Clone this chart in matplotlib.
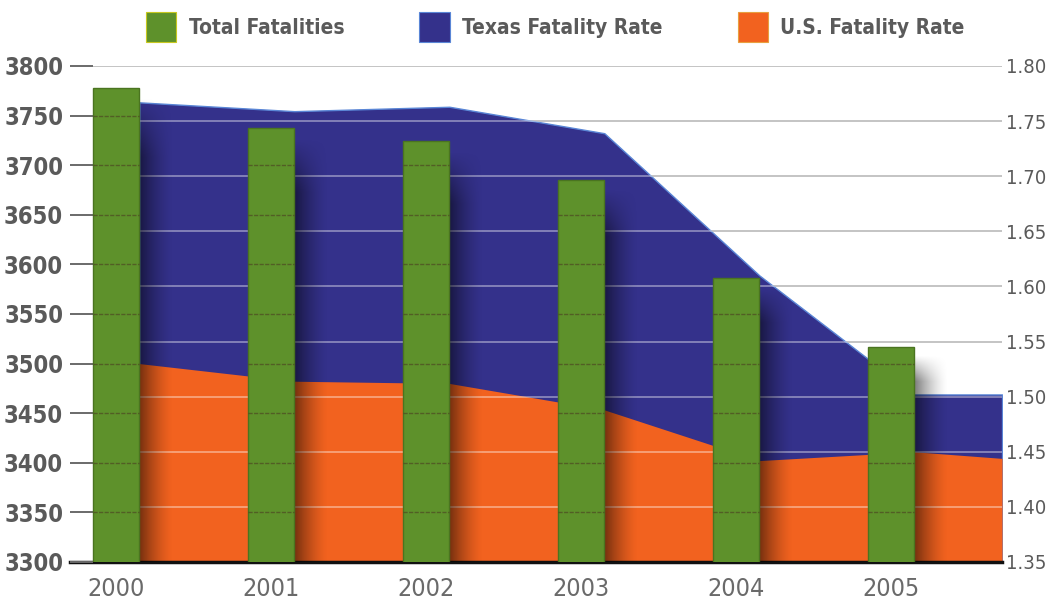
import numpy as np
import matplotlib
matplotlib.use("Agg")
import matplotlib.pyplot as plt
from matplotlib.patches import Patch

years = ["2000", "2001", "2002", "2003", "2004", "2005"]
total_fatalities = [3778, 3737, 3724, 3685, 3586, 3517]
texas_rate = [1.767, 1.759, 1.763, 1.739, 1.610, 1.502]
us_rate = [1.530, 1.514, 1.512, 1.488, 1.442, 1.450]
# the shaded areas run on past the last bar to the right edge
texas_rate_end = 1.502
us_rate_end = 1.444

left_ticks = [3300, 3350, 3400, 3450, 3500, 3550, 3600, 3650, 3700, 3750, 3800]
right_ticks = [1.35, 1.40, 1.45, 1.50, 1.55, 1.60, 1.65, 1.70, 1.75, 1.80]

green = "#5e912b"
blue = "#34318b"
orange = "#f2621f"
grey_txt = "#5a5a5a"

plt.rcParams["font.family"] = ["DejaVu Sans"]
plt.rcParams["font.stretch"] = "condensed"

fig = plt.figure(figsize=(10.46, 6.03), dpi=100)
ax = fig.add_axes([0.067, 0.068, 0.891, 0.8226])   # rates (right scale), drawn first
ax2 = ax.twinx()                                     # fatalities (left scale), on top

x = np.arange(len(years))
bw = 0.3
xmin, xmax = -0.297, 5.716

# areas on the rate axis, vertices at the right edge of each bar
xa = np.append(x + bw / 2, xmax)
tx = np.append(texas_rate, texas_rate_end)
us = np.append(us_rate, us_rate_end)
ax.fill_between(xa, 1.35, tx, color=blue, edgecolor="#5a86d6", linewidth=1, zorder=1)
ax.fill_between(xa, 1.35, us, color=orange, linewidth=0, zorder=1.2)

ax.set_ylim(1.35, 1.80)
ax.set_yticks(right_ticks)
ax.set_yticklabels([f"{v:.2f}" for v in right_ticks])
ax.yaxis.tick_right()
# rate gridlines: grey on white, pale where they cross the areas
ax.hlines(right_ticks[1:], x[0] - bw / 2, xmax, colors="#9a9a9a", linewidth=1.3, zorder=0.5)
ax.hlines(right_ticks[1:], x[0] - bw / 2, xmax, colors="white", alpha=0.45, linewidth=1.2, zorder=1.5)
ax.tick_params(axis="y", length=0, pad=3, labelsize=14.5, labelcolor=grey_txt)
ax.set_xticks(x)
ax.set_xticklabels(years)
ax.tick_params(axis="x", length=0, pad=11, labelsize=18, labelcolor="#6a6a6a")
for s in ["top", "left", "right"]:
    ax.spines[s].set_visible(False)
ax.spines["bottom"].set_color("#111111")
ax.spines["bottom"].set_linewidth(2.5)
ax.set_xlim(xmin, xmax)

# soft shadows to the right of each bar, fading sideways and at the top
gx = np.linspace(0.65, 0.0, 64) ** 1.5
gy = np.clip(np.linspace(0, 8, 64), 0, 1)[:, None]
grad = np.zeros((64, 64, 4))
grad[..., 3] = gx[None, :] * gy
for xi, h in zip(x, total_fatalities):
    ax2.imshow(grad, extent=[xi + bw / 2, xi + bw / 2 + 0.22, 3300, h - 8],
               aspect="auto", interpolation="bilinear", origin="upper", zorder=1.5)

ax2.bar(x, total_fatalities, width=bw, color=green, edgecolor="#4a7420",
        linewidth=1, zorder=2)
# darker gridline marks across the bars
for xi, h in zip(x, total_fatalities):
    lv = [t for t in left_ticks[1:] if t < h]
    ax2.hlines(lv, xi - bw / 2, xi + bw / 2, colors="#4b3d22", alpha=0.6,
               linewidth=1, linestyles=(0, (3, 1)), zorder=3)

ax2.set_ylim(3300, 3800)
ax2.set_yticks(left_ticks)
ax2.yaxis.tick_left()
ax2.tick_params(axis="y", direction="in", length=16.5, width=1.4, color="#6a6a6a",
                pad=5, labelsize=17, labelcolor=grey_txt)
for lab in ax2.get_yticklabels():
    lab.set_fontweight("bold")
for s in ["top", "left", "right", "bottom"]:
    ax2.spines[s].set_visible(False)
ax2.set_xlim(xmin, xmax)

handles = [Patch(facecolor=green, edgecolor="#c8c820", linewidth=0.8),
           Patch(facecolor=blue, edgecolor="#5a86d6", linewidth=0.8),
           Patch(facecolor=orange, edgecolor="#e8a040", linewidth=0.8)]
leg = fig.legend(handles, ["Total Fatalities", "Texas Fatality Rate", "U.S. Fatality Rate"],
                 loc="upper center", bbox_to_anchor=(0.531, 1.012), ncol=3, frameon=False,
                 handlelength=1.45, handleheight=1.9, handletextpad=0.6,
                 columnspacing=3.6, prop={"size": 15, "weight": "bold", "stretch": "condensed"})
for t in leg.get_texts():
    t.set_color(grey_txt)

fig.savefig("out.png", dpi=100)
